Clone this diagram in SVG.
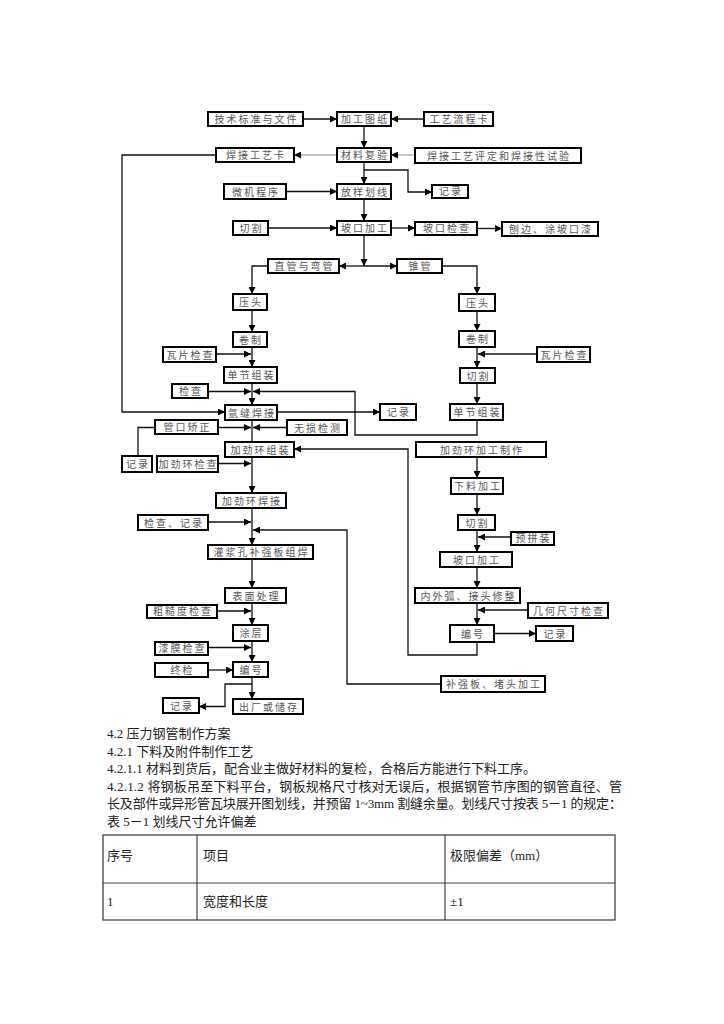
<svg xmlns="http://www.w3.org/2000/svg" width="724" height="1024" viewBox="0 0 724 1024">
<defs>
<style>
.b rect{fill:#fff;stroke:#000;stroke-width:2}
.b text{font-family:"Noto Sans CJK SC",sans-serif;font-size:10px;letter-spacing:2px;fill:#555;text-anchor:middle}
.c line,.c path{fill:none;stroke:#111;stroke-width:1.3}
.g{stroke:#aaa !important}
.t{font-family:"Liberation Serif","Noto Sans CJK SC",serif;font-size:13px;fill:#222}
</style>
<marker id="a" viewBox="0 0 8 8" refX="8" refY="4" markerWidth="7" markerHeight="7" markerUnits="userSpaceOnUse" orient="auto"><path d="M0,0 L8,4 L0,8 z" fill="#000"/></marker>
</defs>
<rect width="724" height="1024" fill="#fff"/>

<g class="c" id="connectors">
<line x1="303" y1="119" x2="337" y2="119" marker-end="url(#a)"/>
<line x1="424" y1="119" x2="391" y2="119" marker-end="url(#a)"/>
<line x1="364" y1="126" x2="364" y2="148" marker-end="url(#a)"/>
<line class="g" x1="337" y1="155" x2="294" y2="155" marker-end="url(#a)"/>
<line class="g" x1="415" y1="155" x2="391" y2="155" marker-end="url(#a)"/>
<line x1="364" y1="162" x2="364" y2="184" marker-end="url(#a)"/>
<path d="M364,170 H408 V192 H432" marker-end="url(#a)"/>
<line x1="286" y1="191.5" x2="337" y2="191.5" marker-end="url(#a)"/>
<line x1="364" y1="199" x2="364" y2="221" marker-end="url(#a)"/>
<line x1="268" y1="228" x2="337" y2="228" marker-end="url(#a)"/>
<line x1="391" y1="228" x2="415" y2="228" marker-end="url(#a)"/>
<line x1="477" y1="228.5" x2="502" y2="228.5" marker-end="url(#a)"/>
<line x1="364" y1="235" x2="364" y2="266" marker-end="url(#a)"/>
<line x1="364" y1="266" x2="339" y2="266" marker-end="url(#a)"/>
<line x1="364" y1="266" x2="397" y2="266" marker-end="url(#a)"/>
<path d="M268,266 H252 V294" marker-end="url(#a)"/>
<path d="M442,266 H477 V294" marker-end="url(#a)"/>
<line x1="252" y1="310" x2="252" y2="332" marker-end="url(#a)"/>
<line x1="252" y1="347" x2="252" y2="367" marker-end="url(#a)"/>
<line x1="216" y1="354" x2="251" y2="354" marker-end="url(#a)"/>
<line x1="477" y1="311" x2="477" y2="331" marker-end="url(#a)"/>
<line x1="477" y1="347" x2="477" y2="368" marker-end="url(#a)"/>
<line x1="537" y1="354" x2="478" y2="354" marker-end="url(#a)"/>
<line x1="477" y1="383" x2="477" y2="404" marker-end="url(#a)"/>
<line x1="252" y1="383" x2="252" y2="405" marker-end="url(#a)"/>
<line x1="208" y1="391.5" x2="251" y2="391.5" marker-end="url(#a)"/>
<path d="M477,420 V435 H355 V391.5 H253" marker-end="url(#a)"/>
<path d="M216,155 H122 V412 H225" marker-end="url(#a)"/>
<line x1="277" y1="412" x2="380" y2="412" marker-end="url(#a)"/>
<line x1="252" y1="420" x2="252" y2="442"/>
<line x1="218" y1="427.5" x2="251" y2="427.5" marker-end="url(#a)"/>
<line x1="287" y1="427.5" x2="253" y2="427.5" marker-end="url(#a)"/>
<path d="M155,427.5 H138 V456"/>
<path d="M477,642 V655 H408 V449 H294" marker-end="url(#a)"/>
<line x1="477" y1="457" x2="477" y2="478" marker-end="url(#a)"/>
<line x1="477" y1="494" x2="477" y2="515" marker-end="url(#a)"/>
<line x1="477" y1="530" x2="477" y2="552" marker-end="url(#a)"/>
<line x1="511" y1="537" x2="478" y2="537" marker-end="url(#a)"/>
<line x1="477" y1="567" x2="477" y2="588" marker-end="url(#a)"/>
<line x1="477" y1="603" x2="477" y2="625" marker-end="url(#a)"/>
<line x1="528" y1="610" x2="478" y2="610" marker-end="url(#a)"/>
<line x1="494" y1="633.5" x2="536" y2="633.5" marker-end="url(#a)"/>
<line x1="252" y1="457" x2="252" y2="493" marker-end="url(#a)"/>
<line x1="218" y1="463.5" x2="251" y2="463.5" marker-end="url(#a)"/>
<line x1="252" y1="508" x2="252" y2="545" marker-end="url(#a)"/>
<line x1="208" y1="522" x2="251" y2="522" marker-end="url(#a)"/>
<path d="M441,684 H347 V530 H253" marker-end="url(#a)"/>
<line x1="252" y1="559" x2="252" y2="588" marker-end="url(#a)"/>
<line x1="252" y1="603" x2="252" y2="625" marker-end="url(#a)"/>
<line x1="217" y1="611" x2="251" y2="611" marker-end="url(#a)"/>
<line x1="252" y1="641" x2="252" y2="662" marker-end="url(#a)"/>
<line x1="208" y1="647.5" x2="251" y2="647.5" marker-end="url(#a)"/>
<line x1="208" y1="670" x2="233" y2="670" marker-end="url(#a)"/>
<line x1="252" y1="677" x2="252" y2="699" marker-end="url(#a)"/>
<path d="M252,684 H225 V706.5 H199" marker-end="url(#a)"/>
</g>

<g class="b" id="n1"><rect x="208" y="112" width="95" height="14"/><text x="256.5" y="123">技术标准与文件</text></g>
<g class="b" id="n2"><rect x="337" y="112" width="54" height="14"/><text x="365" y="123">加工图纸</text></g>
<g class="b" id="n3"><rect x="424" y="112" width="69" height="14"/><text x="459.5" y="123">工艺流程卡</text></g>
<g class="b" id="n4"><rect x="216" y="148" width="78" height="14"/><text x="256" y="159">焊接工艺卡</text></g>
<g class="b" id="n5"><rect x="337" y="148" width="54" height="14"/><text x="365" y="159">材料复验</text></g>
<g class="b" id="n6"><rect x="415" y="148" width="166" height="15"/><text x="499" y="159.5">焊接工艺评定和焊接性试验</text></g>
<g class="b" id="n7"><rect x="224" y="184" width="62" height="15"/><text x="256" y="195.5">微机程序</text></g>
<g class="b" id="n8"><rect x="337" y="184" width="54" height="15"/><text x="365" y="195.5">放样划线</text></g>
<g class="b" id="n9"><rect x="432" y="185" width="36" height="13"/><text x="451" y="195">记录</text></g>
<g class="b" id="n10"><rect x="233" y="221" width="35" height="14"/><text x="251.5" y="232">切割</text></g>
<g class="b" id="n11"><rect x="337" y="221" width="54" height="14"/><text x="365" y="232">坡口加工</text></g>
<g class="b" id="n12"><rect x="415" y="222" width="62" height="13"/><text x="447" y="232">坡口检查</text></g>
<g class="b" id="n13"><rect x="502" y="222" width="96" height="14"/><text x="551" y="233">刨边、涂坡口漆</text></g>
<g class="b" id="n14"><rect x="268" y="259" width="71" height="14"/><text x="304.5" y="270">直管与弯管</text></g>
<g class="b" id="n15"><rect x="397" y="259" width="45" height="14"/><text x="420.5" y="270">锥管</text></g>
<g class="b" id="n16"><rect x="233" y="294" width="34" height="16"/><text x="251" y="306">压头</text></g>
<g class="b" id="n17"><rect x="233" y="332" width="34" height="15"/><text x="251" y="343.5">卷制</text></g>
<g class="b" id="n18"><rect x="163" y="347" width="53" height="15"/><text x="190.5" y="358.5">瓦片检查</text></g>
<g class="b" id="n19"><rect x="224" y="367" width="53" height="16"/><text x="251.5" y="379">单节组装</text></g>
<g class="b" id="n20"><rect x="172" y="384" width="36" height="14"/><text x="191" y="395">检查</text></g>
<g class="b" id="n21"><rect x="225" y="405" width="52" height="15"/><text x="252" y="416.5">氩缝焊接</text></g>
<g class="b" id="n22"><rect x="380" y="404" width="36" height="16"/><text x="399" y="416">记录</text></g>
<g class="b" id="n23"><rect x="155" y="420" width="63" height="14"/><text x="187.5" y="431">管口矫正</text></g>
<g class="b" id="n24"><rect x="287" y="420" width="60" height="15"/><text x="318" y="431.5">无损检测</text></g>
<g class="b" id="n25"><rect x="225" y="442" width="69" height="15"/><text x="260.5" y="453.5">加劲环组装</text></g>
<g class="b" id="n26"><rect x="122" y="456" width="30" height="16"/><text x="138" y="468">记录</text></g>
<g class="b" id="n27"><rect x="157" y="456" width="61" height="16"/><text x="188.5" y="468">加劲环检查</text></g>
<g class="b" id="n28"><rect x="216" y="493" width="70" height="15"/><text x="252" y="504.5">加劲环焊接</text></g>
<g class="b" id="n29"><rect x="138" y="515" width="70" height="15"/><text x="174" y="526.5">检查、记录</text></g>
<g class="b" id="n30"><rect x="208" y="545" width="105" height="14"/><text x="261.5" y="556">灌浆孔补强板组焊</text></g>
<g class="b" id="n31"><rect x="225" y="588" width="61" height="15"/><text x="256.5" y="599.5">表面处理</text></g>
<g class="b" id="n32"><rect x="147" y="605" width="70" height="13"/><text x="183" y="615">粗糙度检查</text></g>
<g class="b" id="n33"><rect x="233" y="625" width="35" height="16"/><text x="251.5" y="637">涂层</text></g>
<g class="b" id="n34"><rect x="155" y="642" width="53" height="13"/><text x="182.5" y="652">漆膜检查</text></g>
<g class="b" id="n35"><rect x="155" y="663" width="53" height="14"/><text x="182.5" y="674">终检</text></g>
<g class="b" id="n36"><rect x="233" y="662" width="35" height="15"/><text x="251.5" y="673.5">编号</text></g>
<g class="b" id="n37"><rect x="163" y="698" width="36" height="15"/><text x="182" y="709.5">记录</text></g>
<g class="b" id="n38"><rect x="233" y="699" width="70" height="15"/><text x="269" y="710.5">出厂或储存</text></g>
<g class="b" id="n39"><rect x="459" y="294" width="36" height="17"/><text x="478" y="306.5">压头</text></g>
<g class="b" id="n40"><rect x="459" y="331" width="36" height="16"/><text x="478" y="343">卷制</text></g>
<g class="b" id="n41"><rect x="537" y="347" width="53" height="15"/><text x="564.5" y="358.5">瓦片检查</text></g>
<g class="b" id="n42"><rect x="460" y="368" width="35" height="15"/><text x="478.5" y="379.5">切割</text></g>
<g class="b" id="n43"><rect x="450" y="404" width="53" height="16"/><text x="477.5" y="416">单节组装</text></g>
<g class="b" id="n44"><rect x="416" y="442" width="130" height="15"/><text x="482" y="453.5">加劲环加工制作</text></g>
<g class="b" id="n45"><rect x="451" y="478" width="52" height="16"/><text x="478" y="490">下料加工</text></g>
<g class="b" id="n46"><rect x="458" y="515" width="37" height="15"/><text x="477.5" y="526.5">切割</text></g>
<g class="b" id="n47"><rect x="511" y="532" width="43" height="13"/><text x="533.5" y="542">预拼装</text></g>
<g class="b" id="n48"><rect x="440" y="552" width="72" height="15"/><text x="477" y="563.5">坡口加工</text></g>
<g class="b" id="n49"><rect x="415" y="588" width="105" height="15"/><text x="468.5" y="599.5">内外弧、接头修整</text></g>
<g class="b" id="n50"><rect x="528" y="603" width="80" height="15"/><text x="569" y="614.5">几何尺寸检查</text></g>
<g class="b" id="n51"><rect x="450" y="625" width="44" height="17"/><text x="473" y="637.5">编号</text></g>
<g class="b" id="n52"><rect x="536" y="626" width="37" height="15"/><text x="555.5" y="637.5">记录</text></g>
<g class="b" id="n53"><rect x="441" y="676" width="104" height="16"/><text x="494" y="688">补强板、堵头加工</text></g>

<g id="body-text">
<text class="t" x="107" y="738">4.2 压力钢管制作方案</text>
<text class="t" x="107" y="755.5">4.2.1 下料及附件制作工艺</text>
<text class="t" x="107" y="773">4.2.1.1 材料到货后，配合业主做好材料的复检，合格后方能进行下料工序。</text>
<text class="t" x="107" y="790.5" textLength="515" lengthAdjust="spacing">4.2.1.2 将钢板吊至下料平台，钢板规格尺寸核对无误后，根据钢管节序图的钢管直径、管</text>
<text class="t" x="107" y="808" textLength="515" lengthAdjust="spacing">长及部件或异形管瓦块展开图划线，并预留 1~3mm 割缝余量。划线尺寸按表 5－1 的规定：</text>
<text class="t" x="107" y="826">表 5－1 划线尺寸允许偏差</text>
</g>

<g id="table">
<rect x="103" y="835" width="512" height="85" fill="#fff" stroke="#444" stroke-width="1.3"/>
<line x1="103" y1="883" x2="615" y2="883" stroke="#444" stroke-width="1.2"/>
<line x1="197" y1="835" x2="197" y2="920" stroke="#444" stroke-width="1.2"/>
<line x1="445" y1="835" x2="445" y2="920" stroke="#444" stroke-width="1.2"/>
<text class="t" x="107" y="860">序号</text>
<text class="t" x="203" y="860">项目</text>
<text class="t" x="450" y="860">极限偏差（mm）</text>
<text class="t" x="107" y="906">1</text>
<text class="t" x="203" y="906">宽度和长度</text>
<text class="t" x="450" y="906">±1</text>
</g>
</svg>
